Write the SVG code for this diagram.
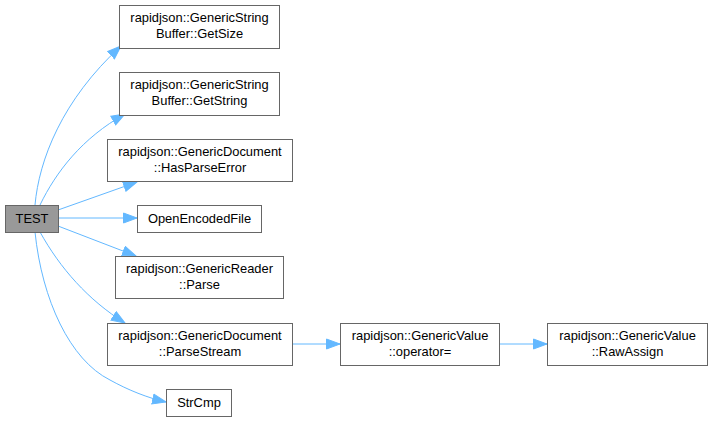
<svg xmlns="http://www.w3.org/2000/svg" width="712" height="421" viewBox="0 0 712 421">
<style>
.n rect{fill:#fff;stroke:#666;stroke-width:1}
.n text{font-family:"Liberation Sans",Arial,sans-serif;font-size:12.9px;fill:#000;text-anchor:middle}
#test rect{fill:#999}
.e path{fill:none;stroke:#63b8ff;stroke-width:1}
</style>
<defs>
<marker id="a" markerUnits="userSpaceOnUse" markerWidth="15" markerHeight="12" refX="14" refY="6" orient="auto" viewBox="0 0 15 12">
<polygon points="0.5,1 14,6 0.5,11" fill="#63b8ff" stroke="#63b8ff"/>
</marker>
</defs>
<rect width="712" height="421" fill="#fff"/>
<g id="edges" class="e">
<path d="M35,205 C39,160 62,100 121,46" marker-end="url(#a)"/>
<path d="M40,205 C56,172 82,138 125,114" marker-end="url(#a)"/>
<path d="M58,210 L137,182" marker-end="url(#a)"/>
<path d="M58,218 L137,218" marker-end="url(#a)"/>
<path d="M58,226 L136,256" marker-end="url(#a)"/>
<path d="M40,232 C60,268 88,300 125,323" marker-end="url(#a)"/>
<path d="M35,232 C42,300 70,360 110,380 C128,390 148,398 166,402" marker-end="url(#a)"/>
<path d="M292,344 L340,344" marker-end="url(#a)"/>
<path d="M499,344 L547,344" marker-end="url(#a)"/>
</g>
<g id="test" class="n"><rect x="5.5" y="205.5" width="53" height="27"/><text x="32" y="223">TEST</text></g>
<g id="getsize" class="n"><rect x="119.5" y="5.5" width="160" height="43"/><text x="199.5" y="22">rapidjson::GenericString</text><text x="199.5" y="38">Buffer::GetSize</text></g>
<g id="getstring" class="n"><rect x="119.5" y="72.5" width="160" height="43"/><text x="199.5" y="89">rapidjson::GenericString</text><text x="199.5" y="105">Buffer::GetString</text></g>
<g id="hasparseerror" class="n"><rect x="107.5" y="139.5" width="185" height="42"/><text x="200" y="156">rapidjson::GenericDocument</text><text x="200" y="172">::HasParseError</text></g>
<g id="openencodedfile" class="n"><rect x="137.5" y="205.5" width="124" height="27"/><text x="199.5" y="223">OpenEncodedFile</text></g>
<g id="parse" class="n"><rect x="115.5" y="256.5" width="168" height="42"/><text x="199.5" y="273">rapidjson::GenericReader</text><text x="199.5" y="289">::Parse</text></g>
<g id="parsestream" class="n"><rect x="107.5" y="323.5" width="185" height="42"/><text x="200" y="340">rapidjson::GenericDocument</text><text x="200" y="356">::ParseStream</text></g>
<g id="strcmp" class="n"><rect x="166.5" y="389.5" width="65" height="27"/><text x="199" y="407">StrCmp</text></g>
<g id="operator" class="n"><rect x="340.5" y="323.5" width="159" height="42"/><text x="420" y="340">rapidjson::GenericValue</text><text x="420" y="356">::operator=</text></g>
<g id="rawassign" class="n"><rect x="547.5" y="323.5" width="160" height="42"/><text x="627.5" y="340">rapidjson::GenericValue</text><text x="627.5" y="356">::RawAssign</text></g>
</svg>
